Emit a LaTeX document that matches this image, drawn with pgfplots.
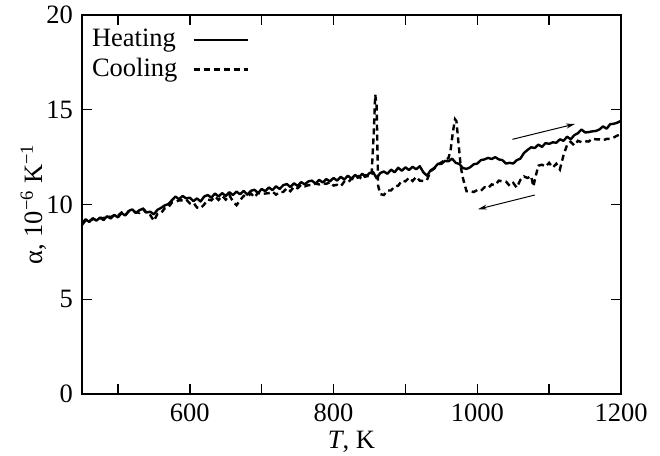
\documentclass[border=0pt]{standalone}
\usepackage{pgfplots}
\pgfplotsset{compat=1.18}
\usetikzlibrary{arrows.meta}
\usepackage{fontspec}
\setmainfont{Liberation Serif}
\begin{document}
\begin{tikzpicture}
\useasboundingbox (-82pt,-61pt) rectangle (578pt,394pt);
\begin{axis}[
  at={(0pt,0pt)}, anchor=south west,
  scale only axis, width=539pt, height=379pt,
  xmin=450, xmax=1200, ymin=0, ymax=20,
  xtick={500,600,...,1200},
  xticklabels={,600,,800,,1000,,1200},
  ytick={0,5,10,15,20},
  tick align=inside,
  major tick length=10pt,
  every tick/.style={black, line width=1.5pt},
  axis line style={line width=1.6pt},
  font=\fontsize{26.5}{31}\selectfont,
  /pgf/number format/assume math mode=true,
  /pgf/number format/1000 sep={},
  xticklabel style={inner sep=0pt, yshift=-10pt},
  yticklabel style={inner sep=0pt, xshift=-9pt},
  xlabel={\textit{T}, K},
  ylabel={α, 10\textsuperscript{−6} K\textsuperscript{−1}},
  xlabel style={at={(axis description cs:0.5,-0.1425)}, anchor=base, inner sep=0pt},
  ylabel style={at={(axis description cs:-0.0742,0.5)}, anchor=base, rotate=0, inner sep=0pt},
  legend plot pos=right,
  legend cell align=left,
  legend style={at={(axis description cs:0.01855,0.9691)}, anchor=north west, draw=none, fill=none,
    inner sep=0pt, outer sep=0pt, column sep=15pt, row sep=2.3pt,
    nodes={inner sep=0pt, text height=20pt, text depth=7pt},
    font=\fontsize{26.5}{31}\selectfont},
  legend image code/.code={\draw[#1] (0pt,0pt) -- (54pt,0pt);},
]
\addplot[black, line width=2.4pt, line join=round] coordinates {
(450,9.00)(455,9.22)(460,9.08)(465,9.28)(470,9.15)(475,9.30)(480,9.18)(485,9.38)(490,9.26)(495,9.45)
(500,9.32)(505,9.55)(510,9.42)(515,9.66)(520,9.74)(525,9.55)(530,9.70)(535,9.78)(540,9.58)(545,9.62)
(550,9.48)(555,9.72)(560,9.82)(565,9.95)(570,10.02)(575,10.22)(580,10.42)(585,10.28)(590,10.45)(595,10.32)
(600,10.36)(605,10.18)(610,10.32)(615,10.16)(620,10.42)(625,10.50)(630,10.36)(635,10.58)(640,10.42)(645,10.60)
(650,10.45)(655,10.65)(660,10.50)(665,10.68)(670,10.54)(675,10.72)(680,10.52)(685,10.72)(690,10.78)(695,10.60)
(700,10.82)(705,10.70)(710,10.90)(715,10.76)(720,10.96)(725,10.82)(730,11.02)(735,11.08)(740,10.92)(745,11.12)
(750,10.98)(755,11.18)(760,11.06)(765,11.22)(770,11.26)(775,11.10)(780,11.30)(785,11.16)(790,11.34)(795,11.22)
(800,11.40)(805,11.26)(810,11.46)(815,11.32)(820,11.52)(825,11.36)(830,11.56)(835,11.42)(840,11.62)(845,11.46)
(850,11.66)(855,11.72)(860,11.38)(865,11.66)(870,11.74)(875,11.62)(880,11.84)(885,11.70)(890,11.94)(895,11.78)
(900,11.96)(905,11.82)(910,11.99)(915,11.86)(920,12.02)(925,11.70)(930,11.52)(935,11.80)(940,11.92)(945,12.14)
(950,12.14)(955,12.30)(960,12.28)(965,12.42)(970,12.20)(975,12.14)(980,11.92)(985,11.88)(990,11.96)(995,12.12)
(1000,12.16)(1005,12.34)(1010,12.38)(1015,12.46)(1020,12.40)(1025,12.50)(1030,12.38)(1035,12.34)(1040,12.16)(1045,12.20)
(1050,12.16)(1055,12.34)(1060,12.42)(1065,12.72)(1070,12.88)(1075,13.02)(1080,12.98)(1085,13.16)(1090,13.04)(1095,13.24)
(1100,13.20)(1105,13.28)(1110,13.26)(1115,13.44)(1120,13.36)(1125,13.58)(1130,13.44)(1135,13.66)(1140,13.76)(1145,13.96)
(1150,13.80)(1155,13.82)(1160,13.86)(1165,13.88)(1170,13.96)(1175,14.12)(1180,14.00)(1185,14.24)(1190,14.26)(1195,14.32)
(1200,14.42)
};
\addlegendentry{Heating}
\addplot[black, line width=2.4pt, dash pattern=on 6pt off 4pt] coordinates {
(450,8.92)(455,9.16)(460,9.14)(465,9.22)(470,9.22)(475,9.30)(480,9.28)(485,9.38)(490,9.34)(495,9.44)
(500,9.40)(505,9.58)(510,9.42)(515,9.64)(520,9.62)(525,9.60)(530,9.56)(535,9.76)(540,9.52)(545,9.44)
(550,9.14)(555,9.50)(560,9.54)(565,9.80)(570,9.84)(575,10.10)(580,10.14)(585,10.22)(590,10.22)(595,10.26)
(600,10.06)(605,10.10)(610,9.84)(615,9.80)(620,10.00)(625,10.26)(630,10.22)(635,10.42)(640,10.24)(645,10.46)
(650,10.26)(655,10.50)(660,10.16)(665,9.96)(670,10.22)(675,10.46)(680,10.42)(685,10.58)(690,10.38)(695,10.62)
(700,10.54)(705,10.58)(710,10.60)(715,10.68)(720,10.52)(725,10.66)(730,10.66)(735,10.86)(740,10.70)(745,10.94)
(750,10.86)(755,11.04)(760,10.96)(765,11.02)(770,11.02)(775,11.10)(780,11.06)(785,11.12)(790,11.09)(795,11.18)
(800,11.00)(805,11.04)(810,10.96)(815,11.21)(820,11.16)(825,11.36)(830,11.30)(835,11.48)(840,11.32)(845,11.54)
(850,11.46)(853,11.60)(856,13.80)(858,15.80)(860,15.20)(862,11.00)(865,10.55)(870,10.50)(875,10.74)(880,10.74)
(885,10.96)(890,10.99)(895,11.26)(900,11.22)(905,11.41)(910,11.24)(915,11.46)(920,11.26)(925,11.24)(930,11.29)
(935,11.76)(940,11.89)(945,12.10)(950,12.22)(955,12.35)(960,12.45)(963,12.90)(966,13.80)(969,14.50)(971,14.40)
(974,13.20)(977,12.00)(980,11.40)(985,10.70)(990,10.71)(995,10.66)(1000,10.76)(1005,10.72)(1010,10.91)(1015,10.86)
(1020,11.06)(1025,11.02)(1030,11.26)(1035,11.22)(1040,11.21)(1045,10.99)(1050,11.14)(1055,10.89)(1060,11.30)(1065,11.48)
(1070,11.40)(1075,11.50)(1078,10.95)(1082,11.60)(1085,12.05)(1090,12.10)(1095,12.00)(1100,12.20)(1105,11.95)(1110,12.15)
(1115,11.85)(1120,12.60)(1125,13.15)(1130,13.31)(1135,13.12)(1140,13.36)(1145,13.29)(1150,13.34)(1155,13.32)(1160,13.48)
(1165,13.44)(1170,13.44)(1175,13.39)(1180,13.46)(1185,13.46)(1190,13.54)(1195,13.64)(1200,13.71)
};
\addlegendentry{Cooling}
\draw[-{Stealth[length=9pt,width=5pt]}, line width=1pt] (axis cs:1049,13.44) -- (axis cs:1136,14.25);
\draw[-{Stealth[length=9pt,width=5pt]}, line width=1pt] (axis cs:1080,10.50) -- (axis cs:1001,9.75);
\end{axis}
\end{tikzpicture}
\end{document}
